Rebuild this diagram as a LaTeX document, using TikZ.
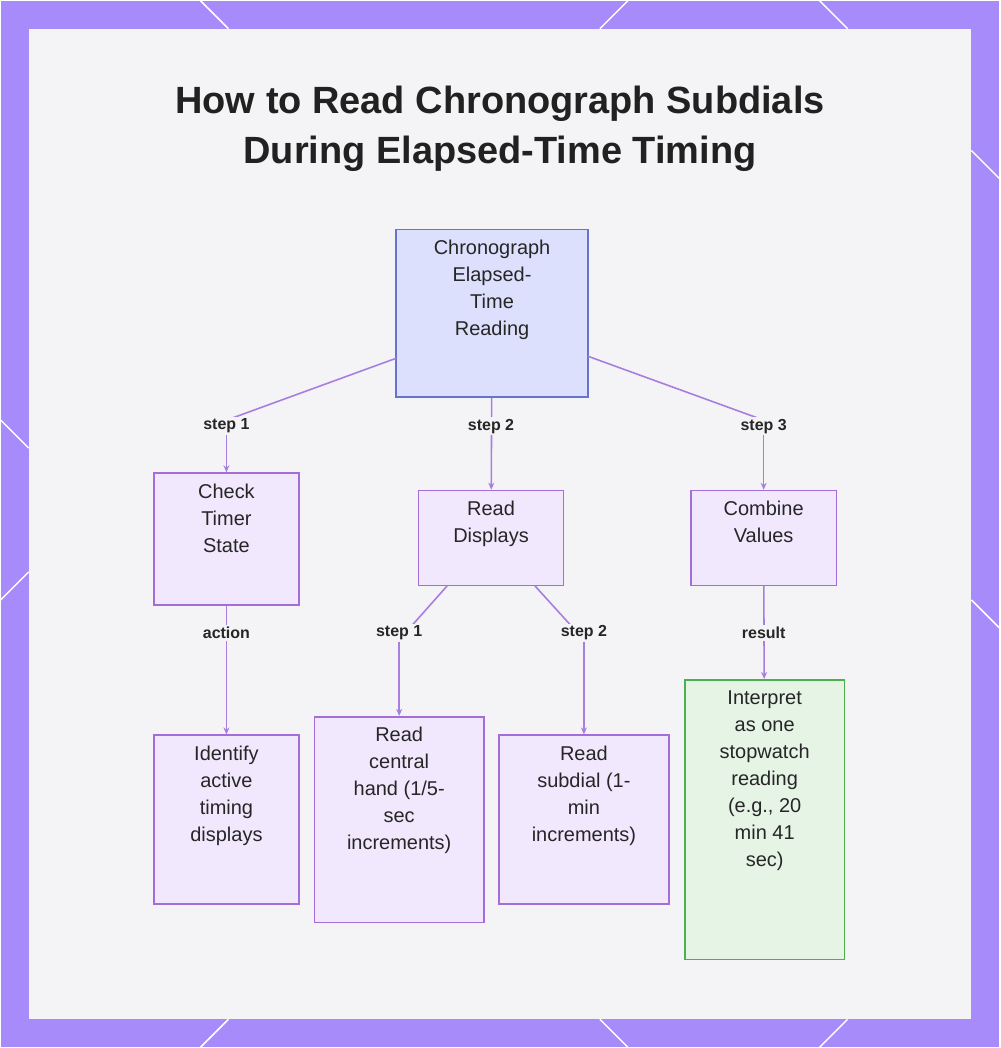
\documentclass[tikz,border=0pt]{standalone}
\usepackage{fontspec}
\setmainfont{Liberation Sans}
\usetikzlibrary{positioning,arrows.meta}
\definecolor{frame}{HTML}{A78BFA}
\definecolor{panel}{HTML}{F4F4F6}
\definecolor{stepfill}{HTML}{F1E8FD}
\definecolor{stepdraw}{HTML}{A46DDA}
\definecolor{rootfill}{HTML}{DCE0FC}
\definecolor{rootdraw}{HTML}{6674CC}
\definecolor{endfill}{HTML}{E6F4E6}
\definecolor{enddraw}{HTML}{4CAF50}
\definecolor{edge}{HTML}{A67FE0}
\tikzset{
  box/.style={draw=stepdraw, fill=stepfill, line width=1.6pt, inner sep=0pt},
  txt/.style={anchor=north, align=center, font=\fontsize{20}{27}\selectfont, text=black!85},
  tag/.style={font=\bfseries\fontsize{16}{18}\selectfont, text=black!85, fill=panel, inner sep=2pt},
  link/.style={draw=edge, line width=1.6pt},
  arr/.style={link, -{Stealth[length=7pt,width=6pt]}}
}
\begin{document}
\begin{tikzpicture}[x=1pt,y=-1pt]
\fill[frame] (0,0) rectangle (1000,1048);
\fill[panel] (28,28) rectangle (972,1020);
% corner decoration
\foreach \a/\b in {{200,0}/{228,28},{600,28}/{628,0},{820,0}/{848,28},{972,150}/{1000,178},{972,600}/{1000,628},{0,420}/{28,448},{0,600}/{28,572},{200,1048}/{228,1020},{600,1020}/{628,1048},{820,1048}/{848,1020}}
  \draw[white, line width=1.5pt] (\a) -- (\b);
\node[align=center, font=\bfseries\fontsize{38}{50}\selectfont, text=black!87] (title) at (500,128)
  {How to Read Chronograph Subdials\\During Elapsed-Time Timing};
% boxes
\node[box, draw=rootdraw, fill=rootfill, minimum width=192pt, minimum height=168pt] (root) at (492,313) {};
\node[box, minimum width=145pt, minimum height=132pt] (check) at (226,539) {};
\node[box, minimum width=145pt, minimum height=95pt] (disp) at (491,538) {};
\node[box, minimum width=146pt, minimum height=95pt] (comb) at (764,538) {};
\node[box, minimum width=145pt, minimum height=169pt] (ident) at (226,820) {};
\node[box, minimum width=170pt, minimum height=206pt] (central) at (399,820) {};
\node[box, minimum width=170pt, minimum height=169pt] (subd) at (584,820) {};
\node[box, draw=enddraw, fill=endfill, minimum width=160pt, minimum height=280pt] (interp) at (765,820) {};
% texts
\node[txt] at ([yshift=-8pt]root.north) {Chronograph\\Elapsed-\\Time\\Reading};
\node[txt] at ([yshift=-8pt]check.north) {Check\\Timer\\State};
\node[txt] at ([yshift=-8pt]disp.north) {Read\\Displays};
\node[txt] at ([yshift=-8pt]comb.north) {Combine\\Values};
\node[txt] at ([yshift=-8pt]ident.north) {Identify\\active\\timing\\displays};
\node[txt] at ([yshift=-8pt]central.north) {Read\\central\\hand (1/5-\\sec\\increments)};
\node[txt] at ([yshift=-8pt]subd.north) {Read\\subdial (1-\\min\\increments)};
\node[txt] at ([yshift=-8pt]interp.north) {Interpret\\as one\\stopwatch\\reading\\(e.g., 20\\min 41\\sec)};
% connectors
\coordinate (b1) at (226,420);
\coordinate (b3) at (764,420);
\coordinate (b4) at (399,640);
\coordinate (b5) at (584,640);
\draw[link] (396,358) -- (b1);
\draw[link] (588,356) -- (b3);
\draw[link] (447,586) -- (b4);
\draw[link] (535,586) -- (b5);
\draw[arr] (b1) -- (check);
\draw[arr] (root) -- (disp);
\draw[arr] (b3) -- (comb);
\draw[arr] (b4) -- (central);
\draw[arr] (b5) -- (subd);
\draw[arr] (check) -- (ident);
\draw[arr] (comb) -- (interp);
\node[tag] at (226,426) {step 1};
\node[tag] at (491,426) {step 2};
\node[tag] at (764,426) {step 3};
\node[tag] at (226,633) {action};
\node[tag] at (399,633) {step 1};
\node[tag] at (584,633) {step 2};
\node[tag] at (764,633) {result};
\end{tikzpicture}
\end{document}
